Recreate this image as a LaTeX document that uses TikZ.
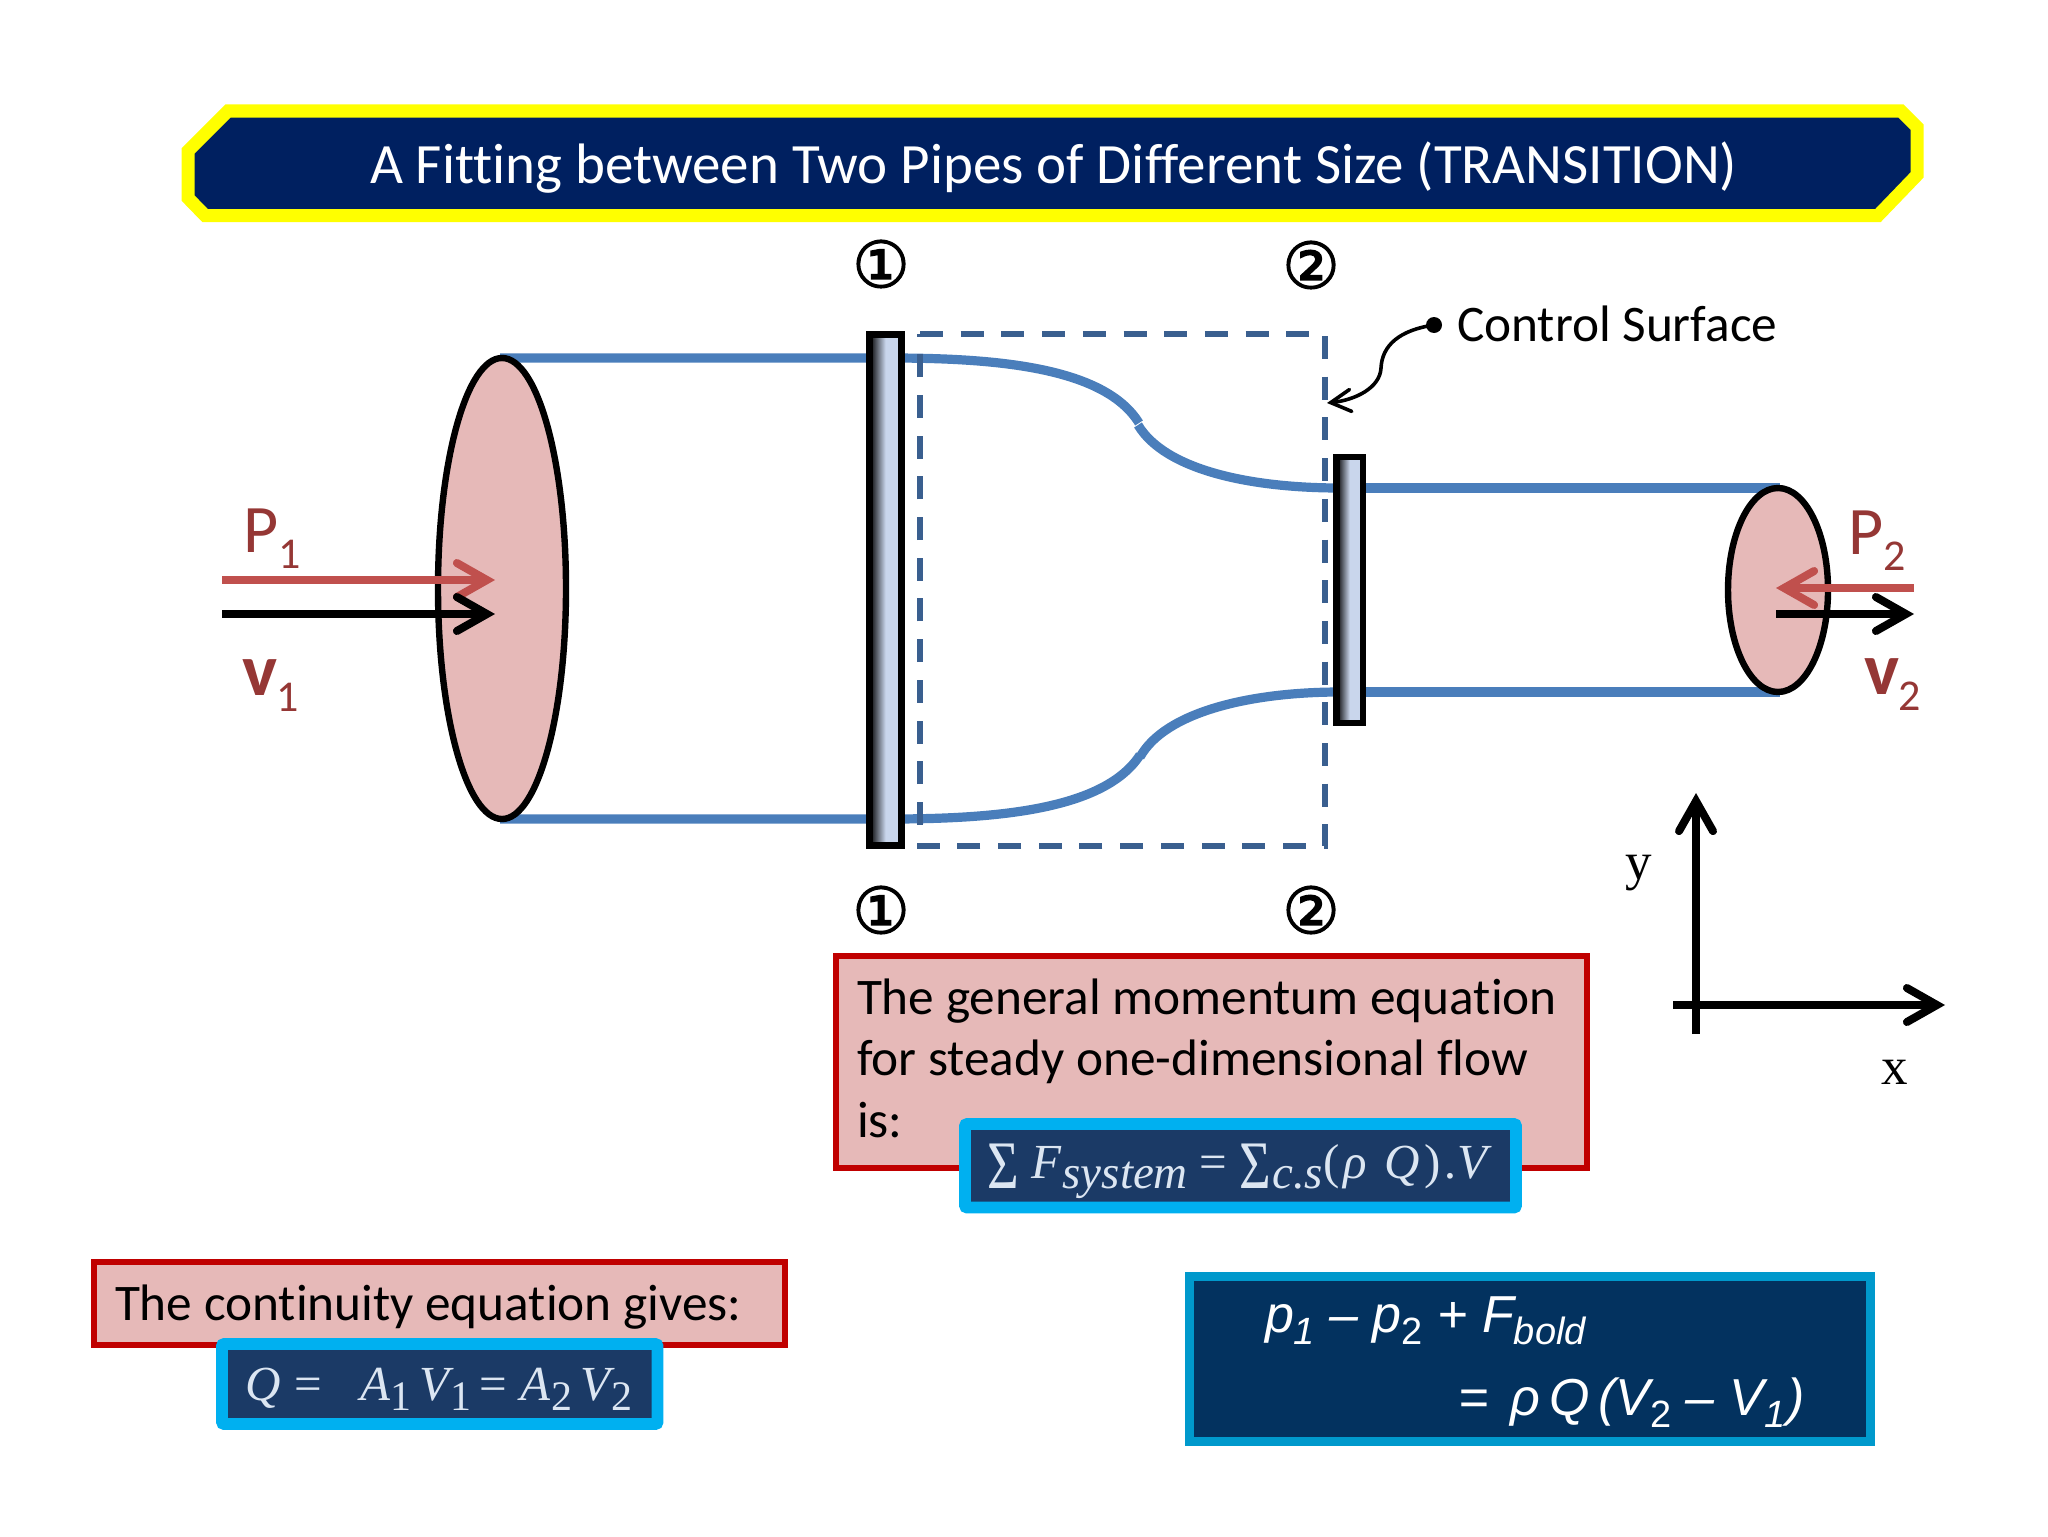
\documentclass[tikz,border=0pt]{standalone}
\usepackage{graphicx}
\usepackage{fontspec}
\usetikzlibrary{arrows.meta}
\setmainfont[Ligatures=NoCommon]{Carlito}
\newfontfamily\arialfont{Liberation Sans}
\newfontfamily\timesfont{Liberation Serif}
\newfontfamily\circfont[FakeBold=2]{DejaVu Sans}
\newcommand{\lowsub}[2][-6pt]{\raisebox{#1}{\fontsize{19}{19}\selectfont #2}}
\newcommand{\ptsub}[1]{\raisebox{-8pt}{\fontsize{22}{22}\mdseries\selectfont #1}}
\newcommand{\eqsub}[1]{\kern.5pt\raisebox{-5pt}{\fontsize{21}{21}\selectfont #1}}
\newcommand{\eqsubwide}[1]{\kern.5pt\raisebox{-5pt}{\fontsize{23.5}{23.5}\selectfont #1}}
\newcommand{\eqsum}{\raisebox{-5pt}{\scalebox{.8}[1]{\upshape\fontsize{34}{34}\selectfont Σ}}}
\newcommand{\eqsize}{\timesfont\itshape\fontsize{24.5}{24.5}\selectfont}
\definecolor{navy}{HTML}{002060}
\definecolor{yellowline}{HTML}{FFFF00}
\definecolor{pipeblue}{HTML}{4A7EBB}
\definecolor{dashblue}{HTML}{3A5F8F}
\definecolor{pinkfill}{HTML}{E6B9B8}
\definecolor{redline}{HTML}{C00000}
\definecolor{arrowred}{HTML}{C0504D}
\definecolor{labelred}{HTML}{953735}
\definecolor{platelight}{HTML}{C9D6EC}
\definecolor{cyanline}{HTML}{00B0F0}
\definecolor{eqdark}{HTML}{1B3A66}
\definecolor{eqtext}{HTML}{DCE6F2}
\definecolor{deepblue}{HTML}{03325F}
\definecolor{tealline}{HTML}{0099CC}
\tikzset{
  txt/.style={anchor=base west,inner sep=0pt,outer sep=0pt},
  pipeline/.style={draw=pipeblue,line width=4.6pt},
  face/.style={draw=black,fill=pinkfill,line width=3.2pt},
  plate/.style={draw=black,line width=3.2pt,left color=black,right color=platelight,middle color=platelight},
  flow/.style={line width=4pt,-{Straight Barb[line cap=round,line join=miter,length=15pt,width=17pt]}},
  redbox/.style={draw=redline,fill=pinkfill,line width=3pt},
  eqbox/.style={draw=cyanline,fill=eqdark,line width=5.8pt,rounded corners=1pt},
  circnum/.style={inner sep=0pt,font=\circfont\fontsize{32}{32}\selectfont},
  ptlabel/.style={txt,text=labelred,font=\fontsize{34}{34}\selectfont},
  vlabel/.style={txt,text=labelred,font=\bfseries\fontsize{37}{37}\selectfont},
  axislabel/.style={txt,font=\timesfont\fontsize{26.5}{26.5}\selectfont},
  bodytext/.style={txt,font=\fontsize{25.65}{25.65}\selectfont},
  restext/.style={txt,text=white,font=\arialfont\itshape\fontsize{26}{26}\selectfont},
}
\begin{document}
\begin{tikzpicture}[x=0.5pt,y=-0.5pt]
\useasboundingbox (0,0) rectangle (2048,1536);
% title
\draw[draw=yellowline,fill=navy,line width=6.5pt,line join=miter]
  (228,111) -- (1901,111) -- (1917,127) -- (1917,175) -- (1878,215.5) -- (205,215.5) -- (188,198) -- (188,151) -- cycle;
\node (title) [txt,text=white,font=\fontsize{28.5}{28.5}\selectfont] at (370,183) {A Fitting between Two Pipes of Different Size (TRANSITION)};
% pipes
\draw[pipeline] (500,358) -- (890,358) .. controls (1000,358) and (1105,368) .. (1139,423);
\draw[pipeline] (1138,425) .. controls (1165,470) and (1250,488) .. (1340,488);
\draw[pipeline] (1360,488) -- (1780,488);
\draw[pipeline] (500,819) -- (890,819) .. controls (1000,819) and (1105,809) .. (1140,755);
\draw[pipeline] (1140,757) .. controls (1165,712) and (1250,692) .. (1340,692);
\draw[pipeline] (1360,692) -- (1780,692);
% control surface
\draw[draw=dashblue,line width=3pt,dash pattern=on 11.5pt off 8.85pt]
  (920,334) -- (1325,334) -- (1325,846) -- (920,846) -- cycle;
% plates
\draw[plate] (869.5,334.5) rectangle (901.5,845.5);
\draw[plate] (1336.5,457) rectangle (1363,723);
% end faces
\draw[face] (502,588.5) ellipse [x radius=64,y radius=230.5];
\draw[face] (1778,590) ellipse [x radius=50,y radius=102];
% flow arrows
\coordinate (p1a) at (222,580); \coordinate (p1b) at (495,580);
\coordinate (v1a) at (222,614); \coordinate (v1b) at (495,614);
\coordinate (p2a) at (1914,588); \coordinate (p2b) at (1776,588);
\coordinate (v2a) at (1776,614); \coordinate (v2b) at (1914,614);
\draw[flow,draw=arrowred] (p1a) -- (p1b);
\draw[flow,draw=black] (v1a) -- (v1b);
\draw[flow,draw=arrowred] (p2a) -- (p2b);
\draw[flow,draw=black] (v2a) -- (v2b);
\node (P1) [ptlabel] at (243,552) {P\ptsub{1}};
\node (V1) [vlabel] at (242,695) {v\kern-.5pt\ptsub{1}};
\node (P2) [ptlabel] at (1848,554) {P\ptsub{2}};
\node (V2) [vlabel] at (1864,694) {v\kern-.5pt\ptsub{2}};
% section marks
\node (s1t) [circnum] at (881,264) {①};
\node (s2t) [circnum] at (1311,265) {②};
\node (s1b) [circnum] at (881,910) {①};
\node (s2b) [circnum] at (1311,910) {②};
% control surface label
\node (cslabel) [bodytext] at (1457,341.5) {Control Surface};
\fill (1434,325) ellipse [x radius=8,y radius=8];
\coordinate (csdot) at (1434,325);
\coordinate (cstip) at (1327,403);
\draw[line width=1.8pt,-{Straight Barb[line cap=round,line join=miter,length=10pt,width=11pt]}]
  (csdot) .. controls (1400,330) and (1382,345) .. (1381,368) .. controls (1380,388) and (1355,400) .. (cstip);
% axes
\coordinate (yfoot) at (1696,1034); \coordinate (ytip) at (1696,793);
\coordinate (xfoot) at (1673,1005); \coordinate (xtip) at (1945,1005);
\draw[flow] (yfoot) -- (ytip);
\draw[flow] (xfoot) -- (xtip);
\node (ylabel) [axislabel] at (1625,879) {y};
\node (xlabel) [axislabel] at (1881,1084) {x};
% momentum box
\draw[redbox] (836,956) rectangle (1587,1168);
\node (mom1) [bodytext] at (857,1014.5) {The general momentum equation};
\node (mom2) [bodytext] at (857,1075.5) {for steady one-dimensional flow};
\node (mom3) [bodytext] at (857,1137.5) {is:};
\draw[eqbox] (965,1124) rectangle (1516,1207.5);
\node (momeq) [txt,text=eqtext,font=\eqsize] at (987,1178)
  {\eqsum\kern6.5pt F\eqsubwide{system}\kern6pt{\upshape=}\kern6pt\eqsum\eqsubwide{c.s}{\upshape(}\kern2pt ρ\kern9pt Q\kern2pt{\upshape)}\kern2.5pt.V};
% continuity box
\draw[redbox] (94,1262) rectangle (785,1345);
\node (cont) [bodytext] at (115,1320.5) {The continuity equation gives:};
\draw[eqbox] (222,1344) rectangle (657.5,1424);
\node (conteq) [txt,text=eqtext,font=\eqsize] at (245,1400)
  {Q\kern7pt{\upshape=}\kern19pt A\eqsub{\upshape 1}\kern4pt V\eqsub{\upshape 1}\kern4pt{\upshape=}\kern6.5pt A\eqsub{\upshape 2}\kern4pt V\eqsub{\upshape 2}};
% result box
\draw[draw=tealline,fill=deepblue,line width=4.5pt] (1189.5,1276) rectangle (1870,1441.5);
\node (res1) [restext] at (1265,1332)
  {p\lowsub{1} – p\lowsub{\upshape 2} + F\lowsub{bold}};
\node (res2) [restext] at (1458,1415)
  {=\kern4pt\ ρ\,Q\,(V\lowsub{\upshape 2} – V\lowsub{1}\kern1pt)};
\end{tikzpicture}
\end{document}
